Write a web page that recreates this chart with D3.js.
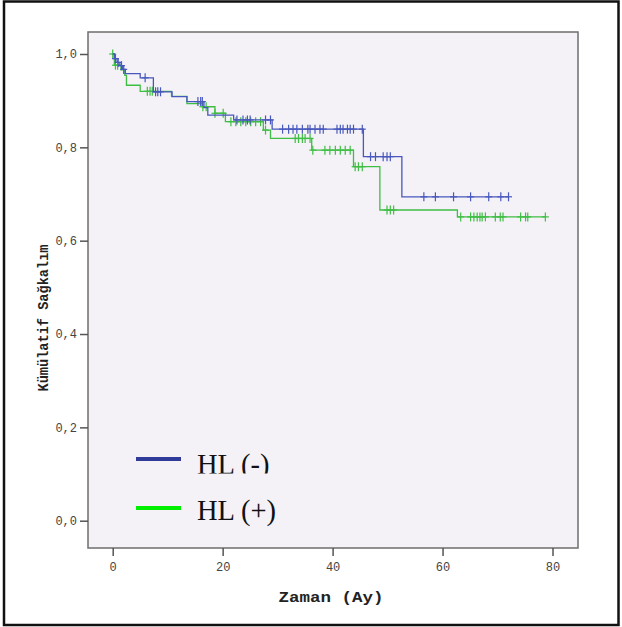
<!DOCTYPE html>
<html>
<head>
<meta charset="utf-8">
<script src="https://cdn.jsdelivr.net/npm/d3@7"></script>
<style>
  html, body { margin: 0; padding: 0; background: #fff; }
  svg { display: block; }
</style>
</head>
<body>
<svg id="chart" width="622" height="627"></svg>
<script>
// ---- Data ----
const groups = ["HL (-)", "HL (+)"];

// Kaplan-Meier steps: [time (months), cumulative survival]
const stepsNeg = [
  [0, 1.0], [0.3, 0.99], [0.8, 0.982], [1.3, 0.975], [1.8, 0.967], [2.3, 0.958],
  [5.0, 0.949], [7.4, 0.919], [10.8, 0.9085], [13.5, 0.898], [16.6, 0.885],
  [17.3, 0.869], [22.0, 0.8587], [29.0, 0.839], [45.6, 0.780], [52.6, 0.694]
];
const endNeg = 72.0;
const censorNeg = [0.5, 1.0, 1.6, 2.0, 5.9, 7.8, 8.2, 8.7, 15.5, 16.0, 16.3,
  22.6, 23.7, 24.5, 25.0, 27.8, 28.7,
  30.9, 32.0, 32.8, 33.5, 34.5, 35.5, 35.9, 36.8, 37.7, 38.3, 40.8, 41.4, 41.9, 42.7, 43.2, 43.8, 45.4,
  46.9, 47.8, 49.2, 49.9, 50.5,
  56.6, 58.7, 62.0, 65.1, 68.4, 70.6, 72.0];

const stepsPos = [
  [0, 1.0], [0.3, 0.976], [1.5, 0.966], [2.2, 0.954], [2.5, 0.933], [5.0, 0.92],
  [10.7, 0.909], [13.5, 0.8935], [16.3, 0.887], [18.6, 0.873], [20.5, 0.855],
  [27.4, 0.837], [28.7, 0.819], [36.2, 0.794], [43.8, 0.7585], [48.6, 0.6657], [62.7, 0.651]
];
const endPos = 78.7;
const censorPos = [0.0, 0.5, 0.9, 6.3, 6.8, 7.2, 16.4, 17.0, 18.6, 20.1,
  21.5, 22.4, 23.3, 24.2, 25.1, 26.0, 26.9, 27.8,
  33.2, 33.8, 34.5, 35.0, 35.9,
  36.4, 38.6, 39.5, 40.5, 41.4, 42.3, 43.2,
  44.1, 44.7, 45.4, 49.9, 50.5, 51.1,
  63.3, 65.1, 65.7, 66.3, 66.8, 67.2, 67.8, 69.6, 70.5, 71.0, 74.2, 75.1, 75.5, 78.7];

const xTicks = [0, 20, 40, 60, 80];
const yTicks = [0, 0.2, 0.4, 0.6, 0.8, 1.0];

// ---- Drawing ----
const svg = d3.select("#chart");
const colors = { neg: "#4858bd", pos: "#3fbe44" };
const legendColors = ["#2e3b98", "#00f000"];

// outer border
svg.append("rect").attr("x", 4).attr("y", 1.5).attr("width", 614.5).attr("height", 623.5)
  .attr("fill", "#fff").attr("stroke", "#111").attr("stroke-width", 2.5);

const frame = { left: 88, top: 32, right: 578, bottom: 548 };
svg.append("rect").attr("x", frame.left).attr("y", frame.top)
  .attr("width", frame.right - frame.left).attr("height", frame.bottom - frame.top)
  .attr("fill", "#f4f2f7").attr("stroke", "#6e6e6e").attr("stroke-width", 1.5);

const x = d3.scaleLinear().domain([0, 80]).range([112.7, 552.5]);
const y = d3.scaleLinear().domain([0, 1]).range([520.7, 54]);

// axes
const fmt = d => d.toFixed(1).replace(".", ",");
const yAxis = svg.append("g").attr("transform", `translate(${frame.left},0)`)
  .call(d3.axisLeft(y).tickValues(yTicks).tickFormat(fmt).tickSize(8).tickPadding(3));
const xAxis = svg.append("g").attr("transform", `translate(0,${frame.bottom})`)
  .call(d3.axisBottom(x).tickValues(xTicks).tickFormat(d3.format("d")).tickSize(8).tickPadding(6));
[yAxis, xAxis].forEach(g => {
  g.select(".domain").remove();
  g.selectAll(".tick line").attr("stroke", "#555").attr("stroke-width", 1.5);
  g.selectAll(".tick text").attr("fill", "#444")
    .style("font-family", "'Liberation Mono', 'DejaVu Sans Mono', monospace")
    .style("font-size", "12px");
});

// axis titles
svg.append("text").attr("x", 331).attr("y", 602).attr("text-anchor", "middle")
  .attr("textLength", 105).attr("lengthAdjust", "spacingAndGlyphs")
  .style("font-family", "'Liberation Mono', monospace").style("font-weight", "bold")
  .style("font-size", "14px").attr("fill", "#222").text("Zaman (Ay)");
svg.append("text").attr("transform", "translate(48,318) rotate(-90)").attr("text-anchor", "middle")
  .attr("textLength", 147).attr("lengthAdjust", "spacingAndGlyphs")
  .style("font-family", "'Liberation Mono', monospace").style("font-weight", "bold")
  .style("font-size", "14px").attr("fill", "#222").text("Kümülatif Sağkalım");

// curves
const line = d3.line().x(d => x(d[0])).y(d => y(d[1])).curve(d3.curveStepAfter);
function survAt(steps, t) {
  let s = steps[0][1];
  for (const st of steps) { if (st[0] <= t) s = st[1]; }
  return s;
}
function drawGroup(steps, end, censors, color) {
  const pts = steps.concat([[end, steps[steps.length - 1][1]]]);
  svg.append("path").datum(pts).attr("d", line).attr("fill", "none")
    .attr("stroke", color).attr("stroke-width", 1.3);
  const g = svg.append("g").attr("stroke", color).attr("stroke-width", 1.2);
  censors.forEach(t => {
    const cx = x(t), cy = y(survAt(steps, t));
    g.append("line").attr("x1", cx).attr("x2", cx).attr("y1", cy - 4.5).attr("y2", cy + 4.5);
    g.append("line").attr("x1", cx - 3.5).attr("x2", cx + 3.5).attr("y1", cy).attr("y2", cy);
  });
}
drawGroup(stepsPos, endPos, censorPos, colors.pos);
drawGroup(stepsNeg, endNeg, censorNeg, colors.neg);

// legend
const defs = svg.append("defs");
defs.append("clipPath").attr("id", "clipLeg1").append("rect")
  .attr("x", 150).attr("y", 440).attr("width", 200).attr("height", 33.5);
const legY = [459, 508];
const legBase = [474, 520];
groups.forEach((name, i) => {
  svg.append("line").attr("x1", 136).attr("x2", 181).attr("y1", legY[i]).attr("y2", legY[i])
    .attr("stroke", legendColors[i]).attr("stroke-width", 4);
  const t = svg.append("text").attr("x", 197).attr("y", legBase[i])
    .style("font-family", "'Liberation Serif', 'Times New Roman', serif")
    .style("font-size", "28.5px").attr("fill", "#111").text(name);
  if (i === 0) t.attr("clip-path", "url(#clipLeg1)");
});
</script>
</body>
</html>
